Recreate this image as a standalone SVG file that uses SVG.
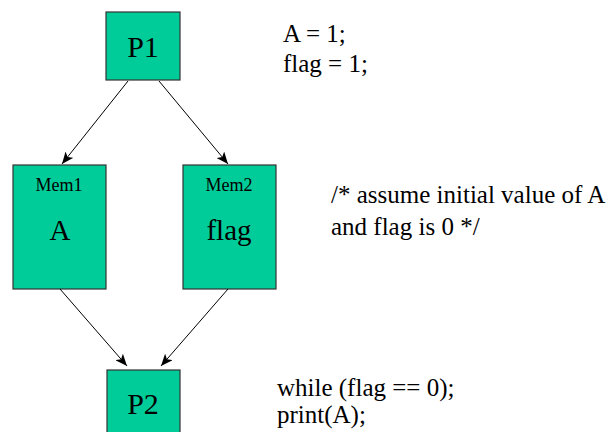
<svg xmlns="http://www.w3.org/2000/svg" width="612" height="432" viewBox="0 0 612 432">
<style>
.box{fill:#00CC99;stroke:#333333;stroke-width:1.2}
.t{font-family:"Liberation Serif","Times New Roman",serif;fill:#000}
.big{font-size:30px;text-anchor:middle}
.mid{font-size:29px;text-anchor:middle}
.small{font-size:18px;text-anchor:middle}
.code{font-size:25px}
.conn line{stroke:#000;stroke-width:1;marker-end:url(#ah)}
</style>
<defs>
<marker id="ah" viewBox="0 0 12 10" refX="12" refY="5" markerWidth="12" markerHeight="10" markerUnits="userSpaceOnUse" orient="auto">
<path d="M0,0 L12,5 L0,10 L3,5 Z" fill="#000"/>
</marker>
</defs>
<rect width="612" height="432" fill="#fff"/>
<g id="P1">
<rect class="box" x="106" y="12" width="74" height="68"/>
<text class="t big" x="143" y="57">P1</text>
</g>
<g id="Mem1">
<rect class="box" x="13" y="165" width="93" height="124"/>
<text class="t small" x="59" y="191">Mem1</text>
<text class="t mid" x="60" y="240">A</text>
</g>
<g id="Mem2">
<rect class="box" x="183" y="165" width="93" height="124"/>
<text class="t small" x="229" y="191">Mem2</text>
<text class="t mid" x="229" y="240">flag</text>
</g>
<g id="P2">
<rect class="box" x="107" y="370" width="73" height="72"/>
<text class="t big" x="143" y="414">P2</text>
</g>
<g class="conn" id="connectors">
<line x1="128" y1="81" x2="62" y2="164"/>
<line x1="159" y1="81" x2="228" y2="164"/>
<line x1="60" y1="289" x2="127" y2="366"/>
<line x1="228" y1="289" x2="161" y2="366"/>
</g>
<g id="notes">
<text class="t code" x="283" y="42">A = 1;</text>
<text class="t code" x="283" y="72">flag = 1;</text>
<text class="t code" x="331" y="203">/* assume initial value of A</text>
<text class="t code" x="331" y="235">and flag is 0 */</text>
<text class="t code" x="277" y="396">while (flag == 0);</text>
<text class="t code" x="277" y="423">print(A);</text>
</g>
</svg>
